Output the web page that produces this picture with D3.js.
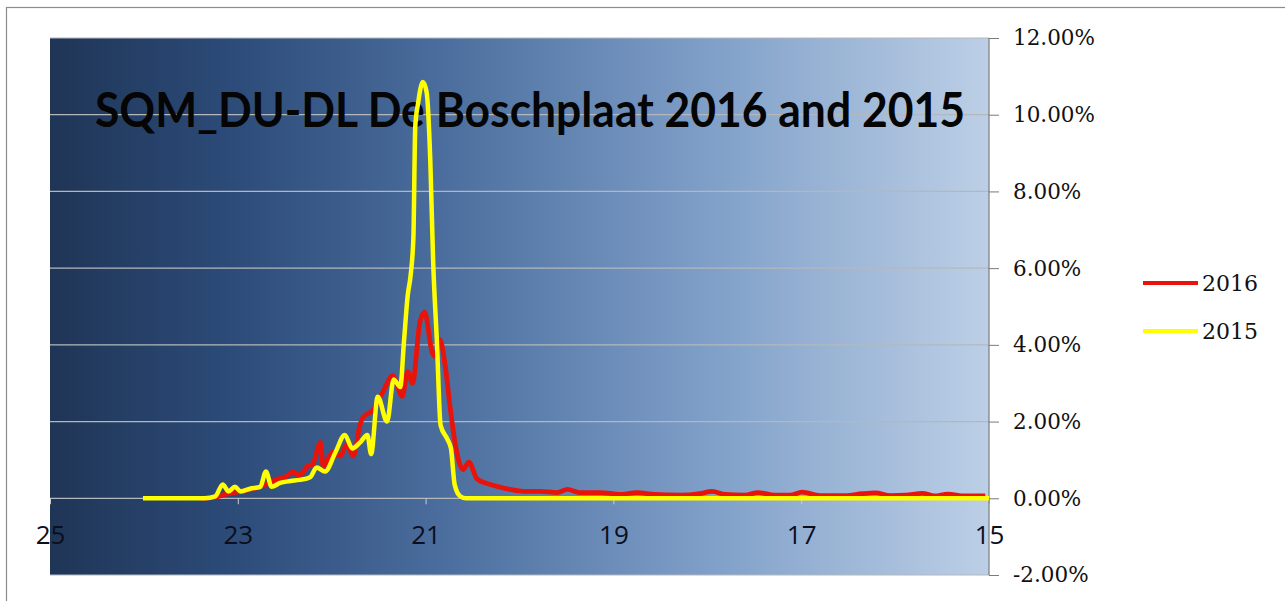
<!DOCTYPE html>
<html><head><meta charset="utf-8">
<script src="https://cdn.jsdelivr.net/npm/d3@7/dist/d3.min.js"></script>
<style>html,body{margin:0;padding:0;background:#fff;}svg{display:block;}</style>
</head><body>
<script>
const title = "SQM_DU-DL De Boschplaat 2016 and 2015";
const xTicks = [25, 23, 21, 19, 17, 15];
const yTicks = [-2, 0, 2, 4, 6, 8, 10, 12];
const seriesNames = ["2016", "2015"];

// 2015: SQM (mag/arcsec²) and share of measurements (%)
const sqm2015 = [24.01,23.35,23.24,23.16,23.10,23.03,22.97,22.87,22.76,22.70,22.64,22.55,22.44,22.34,22.23,22.16,22.07,21.96,21.86,21.78,21.70,21.62,21.58,21.51,21.41,21.34,21.27,21.23,21.19,21.16,21.13,21.11,21.08,21.03,20.99,20.95,20.92,20.88,20.84,20.77,20.73,20.69,20.63,20.57,19.0,17.0,15.0];
const pct2015 = [0,0,0.05,0.36,0.18,0.30,0.18,0.25,0.30,0.70,0.30,0.40,0.45,0.48,0.55,0.80,0.70,1.20,1.65,1.30,1.45,1.65,1.15,2.65,2.00,3.10,2.90,4.10,5.30,5.80,6.80,9.70,10.30,10.85,10.60,8.80,6.20,4.10,1.90,1.55,1.30,0.35,0.05,0,0,0,0];

// 2016
const sqm2016 = [23.40,23.24,23.14,23.03,22.92,22.82,22.71,22.58,22.50,22.41,22.34,22.26,22.20,22.12,22.09,21.99,21.91,21.84,21.77,21.70,21.67,21.56,21.45,21.35,21.25,21.19,21.14,21.06,21.01,20.93,20.90,20.85,20.79,20.74,20.68,20.60,20.54,20.45,20.31,20.21,20.10,19.96,19.78,19.60,19.49,19.36,19.14,18.93,18.75,18.56,18.29,18.08,17.95,17.81,17.60,17.46,17.28,17.12,16.99,16.80,16.53,16.35,16.21,16.05,15.89,15.71,15.58,15.44,15.26,15.04];
const pct2016 = [0,0.03,0.10,0.15,0.20,0.25,0.35,0.50,0.55,0.68,0.60,0.83,0.90,1.46,0.83,1.20,1.10,1.40,1.10,1.90,2.10,2.30,2.80,3.20,2.66,3.30,3.00,4.60,4.85,3.80,3.70,4.14,3.44,2.40,1.35,0.75,0.94,0.50,0.36,0.29,0.23,0.18,0.18,0.15,0.23,0.15,0.15,0.10,0.15,0.10,0.08,0.12,0.18,0.10,0.08,0.15,0.08,0.08,0.16,0.07,0.07,0.12,0.14,0.07,0.08,0.13,0.06,0.11,0.06,0.06];

const W = 1285, H = 601;
const plot = {left: 50, right: 989, top: 38, bottom: 575};

const svg = d3.select("body").append("svg").attr("width", W).attr("height", H);

// outer chart border
svg.append("rect").attr("x", 6.5).attr("y", 7.5).attr("width", W).attr("height", H)
  .attr("fill", "#fff").attr("stroke", "#8c8c8c").attr("stroke-width", 1.2);

const defs = svg.append("defs");
const grad = defs.append("linearGradient").attr("id", "bg").attr("x1", "0%").attr("x2", "100%").attr("y1", "0%").attr("y2", "0%");
[[0, "#1f3556"], [0.2, "#2d4c7a"], [0.42, "#4b6e9e"], [0.7, "#7f9fc8"], [1, "#bccfe6"]].forEach(([o, c]) =>
  grad.append("stop").attr("offset", o).attr("stop-color", c));

const x = d3.scaleLinear().domain([25, 15]).range([plot.left, plot.right]);
const y = d3.scaleLinear().domain([-2, 12]).range([plot.bottom, plot.top]);

svg.append("rect").attr("x", plot.left).attr("y", plot.top)
  .attr("width", plot.right - plot.left).attr("height", plot.bottom - plot.top)
  .attr("fill", "url(#bg)");

// horizontal gridlines
svg.append("g").selectAll("line").data(yTicks).join("line")
  .attr("x1", plot.left).attr("x2", plot.right)
  .attr("y1", d => y(d)).attr("y2", d => y(d))
  .attr("stroke", "#b4b8bd").attr("stroke-width", 1.2);

// title (behind data)
svg.append("text").text(title)
  .attr("x", 95).attr("y", 127)
  .attr("textLength", 870).attr("lengthAdjust", "spacingAndGlyphs")
  .attr("font-family", "Lato, 'Open Sans', sans-serif").attr("font-weight", "bold")
  .attr("font-size", 47).attr("fill", "#050505");

// x axis at y=0
const xAxis = d3.axisBottom(x).tickValues(xTicks).tickSize(6).tickFormat(d3.format("d"));
const gx = svg.append("g").attr("transform", `translate(0,${y(0)})`).call(xAxis);
gx.select(".domain").remove();
gx.selectAll(".tick line").attr("stroke", "#c8ccd2");
gx.selectAll(".tick text").attr("dy", null).attr("y", 46)
  .attr("font-family", "'Liberation Sans Narrow', 'Open Sans', sans-serif")
  .attr("font-size", 26).attr("fill", "#0a0f1e");

// y axis on right
const yAxis = d3.axisRight(y).tickValues(yTicks).tickSize(10).tickPadding(14)
  .tickFormat(d => (d < 0 ? "-" : "") + Math.abs(d).toFixed(2) + "%");
const gy = svg.append("g").attr("transform", `translate(${plot.right},0)`).call(yAxis);
gy.select(".domain").attr("stroke", "#7a7a7a").attr("stroke-width", 1.2).attr("d", `M0,${plot.top}V${plot.bottom}`);
gy.selectAll(".tick line").attr("stroke", "#7a7a7a");
gy.selectAll(".tick text").attr("font-family", "'DejaVu Serif', serif")
  .attr("font-size", 21.5).attr("fill", "#111");

// series
const line = d3.line().x(d => x(d[0])).y(d => y(d[1])).curve(d3.curveMonotoneX);
const data2016 = sqm2016.map((v, i) => [v, pct2016[i]]);
const data2015 = sqm2015.map((v, i) => [v, pct2015[i]]);
const colors = {"2016": "#e8140c", "2015": "#ffff00"};

svg.append("path").datum(data2016).attr("d", line).attr("fill", "none")
  .attr("stroke", colors["2016"]).attr("stroke-width", 4.8).attr("stroke-linejoin", "round");
svg.append("path").datum(data2015).attr("d", line).attr("fill", "none")
  .attr("stroke", colors["2015"]).attr("stroke-width", 4.5).attr("stroke-linejoin", "round");

// legend
const lg = svg.append("g");
seriesNames.forEach((n, i) => {
  const ly = 283 + i * 48;
  lg.append("line").attr("x1", 1143).attr("x2", 1198).attr("y1", ly).attr("y2", ly)
    .attr("stroke", colors[n]).attr("stroke-width", 4);
  lg.append("text").text(n).attr("x", 1202).attr("y", ly).attr("dy", "0.35em")
    .attr("font-family", "'DejaVu Serif', serif").attr("font-size", 22).attr("fill", "#111");
});
</script>
</body></html>
